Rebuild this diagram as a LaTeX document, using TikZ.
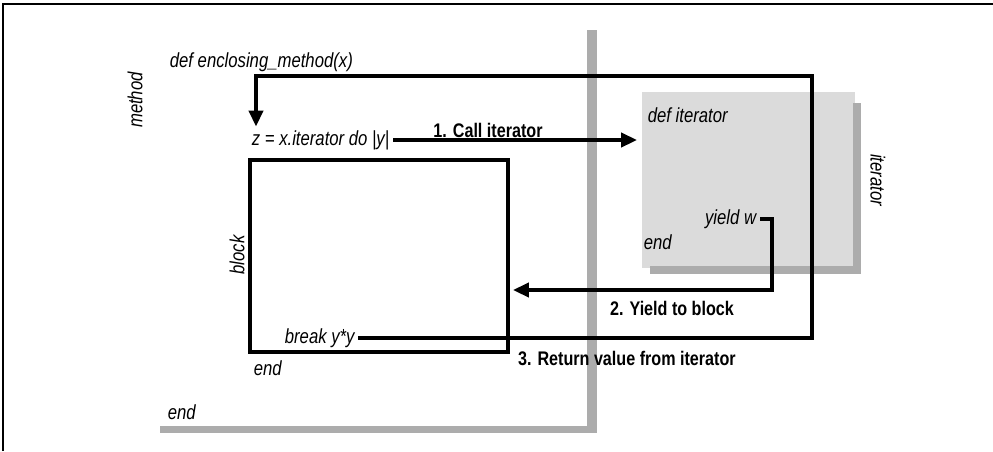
\documentclass[tikz,border=0pt]{standalone}
\usepackage{fontspec}
\setmainfont{Liberation Sans}[FakeStretch=0.82]
\usetikzlibrary{arrows.meta,positioning,calc}

\tikzset{
    code/.style={font=\itshape\fontsize{11.6}{13}\selectfont, inner sep=2pt},
    step label/.style={font=\bfseries\fontsize{11.2}{13}\selectfont, inner sep=1pt},
    flow/.style={line width=2pt, -{Triangle[length=9pt,width=8pt]}},
    wire/.style={line width=2pt},
    shade/.style={fill=gray!65, draw=none}
}

\begin{document}
\begin{tikzpicture}[x=0.02cm, y=-0.02cm]
    \useasboundingbox (0,0) rectangle (993,451);
    \draw[line width=1.2pt] (3,451) -- (3,4) -- (993,4);

    % method and iterator areas
    \fill[shade] (587,30) rectangle (597,433);
    \fill[shade] (160,426) rectangle (597,433);
    \fill[gray!28] (642,92) rectangle (855,268);
    \fill[shade] (853,103) rectangle (861,274);
    \fill[shade] (650,266) rectangle (861,274);

    \node[code, anchor=west] (defm) at (166,62) {def enclosing\_method(x)};
    \node[code, rotate=90] (methodlbl) at (135,100) {method};
    \node[code, anchor=west] (callz) at (248,140) {z = x.iterator do |y|};
    \draw[wire] (250,160) rectangle (508,352);
    \node[code, rotate=90] (blocklbl) at (237,255) {block};
    \node[code, anchor=west] (brk) at (281,338) {break y*y};
    \node[code, anchor=west] (endb) at (250,368) {end};
    \node[code, anchor=west] (endm) at (164,412) {end};

    \node[code, anchor=west] (defi) at (644,115) {def iterator};
    \node[code, rotate=-90] (itlbl) at (878,180) {iterator};
    \node[code, anchor=east] (yld) at (760,219) {yield w};
    \node[code, anchor=west] (endi) at (640,242) {end};

    \coordinate (itin) at (637,143);
    \coordinate (ycorner) at (772,290);
    \coordinate (yback) at (513,290);
    \coordinate (rt) at (812,76);
    \coordinate (lt) at (256,76);

    \draw[flow] (callz.east) -- (callz.east -| itin);
    \node[step label] (s1) at (488,130) {1. Call iterator};

    \draw[flow] (yld.east) -| (ycorner) -- (yback);
    \node[step label] (s2) at (672,308) {2. Yield to block};

    \draw[flow] (brk.east) -- (brk.east -| rt) -- (rt) -- (lt) -- (lt |- callz.north);
    \node[step label, anchor=west] (s3) at (516,358) {3. Return value from iterator};
\end{tikzpicture}
\end{document}
